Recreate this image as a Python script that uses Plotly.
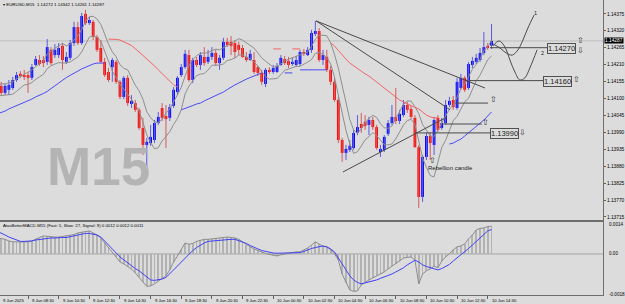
import plotly.graph_objects as go
import pandas as pd

BG = "#dcdcdc"

bars = list(range(130))
opens = [1.14121,1.14141,1.14118,1.14128,1.14134,1.14160,1.14180,1.14176,1.14176,1.14167,
         1.14209,1.14225,1.14225,1.14219,1.14258,1.14241,1.14241,1.14271,1.14219,1.14232,
         1.14280,1.14332,1.14280,1.14375,1.14345,1.14349,1.14300,1.14264,1.14219,1.14186,
         1.14202,1.14219,1.14154,1.14105,1.14167,1.14082,1.14085,1.14063,1.14004,1.13949,
         1.13955,1.13965,1.14020,1.14069,1.14043,1.14037,1.14076,1.14121,1.14176,1.14202,
         1.14241,1.14160,1.14225,1.14209,1.14235,1.14219,1.14235,1.14248,1.14215,1.14232,
         1.14284,1.14284,1.14280,1.14274,1.14264,1.14235,1.14225,1.14225,1.14202,1.14183,
         1.14147,1.14193,1.14186,1.14186,1.14209,1.14228,1.14222,1.14212,1.14209,1.14212,
         1.14251,1.14241,1.14258,1.14310,1.14319,1.14225,1.14235,1.14193,1.14154,1.14095,
         1.13965,1.13923,1.13933,1.13939,1.13988,1.14017,1.14024,1.14014,1.14030,1.14007,
         1.13926,1.13933,1.13985,1.14020,1.14040,1.14027,1.14046,1.14079,1.14066,1.14037,
         1.13942,1.13780,1.13910,1.13978,1.13949,1.14037,1.14004,1.14020,1.14079,1.14095,
         1.14069,1.14134,1.14167,1.14134,1.14209,1.14219,1.14225,1.14248,1.14271,1.14272]
highs = [1.14141,1.14154,1.14147,1.14160,1.14170,1.14186,1.14189,1.14193,1.14186,1.14212,
         1.14238,1.14241,1.14238,1.14293,1.14267,1.14277,1.14280,1.14280,1.14251,1.14290,
         1.14349,1.14349,1.14378,1.14388,1.14365,1.14355,1.14306,1.14290,1.14232,1.14199,
         1.14232,1.14225,1.14160,1.14173,1.14176,1.14111,1.14095,1.14069,1.14037,1.13972,
         1.14014,1.14030,1.14056,1.14085,1.14079,1.14082,1.14137,1.14173,1.14212,1.14258,
         1.14258,1.14232,1.14235,1.14251,1.14267,1.14258,1.14267,1.14258,1.14241,1.14297,
         1.14297,1.14303,1.14290,1.14284,1.14274,1.14251,1.14258,1.14251,1.14206,1.14193,
         1.14199,1.14202,1.14209,1.14215,1.14241,1.14238,1.14235,1.14232,1.14238,1.14258,
         1.14261,1.14267,1.14323,1.14352,1.14329,1.14258,1.14258,1.14206,1.14167,1.14105,
         1.13972,1.13949,1.13965,1.13998,1.14046,1.14053,1.14046,1.14040,1.14040,1.14014,
         1.13949,1.13981,1.14030,1.14079,1.14134,1.14063,1.14095,1.14089,1.14076,1.14046,
         1.13949,1.13916,1.13988,1.13991,1.14040,1.14046,1.14037,1.14095,1.14105,1.14108,
         1.14167,1.14180,1.14173,1.14219,1.14235,1.14245,1.14264,1.14316,1.14280,1.14342]
lows = [1.14108,1.14111,1.14111,1.14111,1.14128,1.14154,1.14167,1.14160,1.14118,1.14160,
        1.14206,1.14206,1.14202,1.14209,1.14209,1.14232,1.14232,1.14193,1.14212,1.14225,
        1.14271,1.14274,1.14274,1.14339,1.14339,1.14290,1.14251,1.14215,1.14170,1.14154,
        1.14154,1.14147,1.14098,1.14098,1.14076,1.14069,1.14056,1.13998,1.13916,1.13868,
        1.13946,1.13955,1.14014,1.14027,1.13939,1.14027,1.14069,1.14111,1.14170,1.14196,
        1.14154,1.14150,1.14202,1.14193,1.14206,1.14212,1.14225,1.14206,1.14193,1.14225,
        1.14267,1.14241,1.14232,1.14241,1.14232,1.14219,1.14222,1.14180,1.14173,1.14144,
        1.14137,1.14180,1.14180,1.14183,1.14206,1.14209,1.14199,1.14206,1.14202,1.14206,
        1.14238,1.14238,1.14248,1.14303,1.14219,1.14209,1.14186,1.14144,1.14089,1.13955,
        1.13894,1.13900,1.13926,1.13933,1.13981,1.13988,1.13998,1.13981,1.13998,1.13933,
        1.13910,1.13926,1.13978,1.14014,1.14017,1.14017,1.14040,1.14053,1.14033,1.13939,
        1.13744,1.13764,1.13900,1.13900,1.13916,1.13991,1.13998,1.14014,1.14072,1.14063,
        1.14063,1.14128,1.14121,1.14128,1.14199,1.14212,1.14219,1.14241,1.14258,1.14261]
closes = [1.14134,1.14118,1.14141,1.14144,1.14160,1.14176,1.14173,1.14170,1.14167,1.14202,
          1.14228,1.14212,1.14215,1.14267,1.14215,1.14258,1.14264,1.14225,1.14235,1.14280,
          1.14332,1.14280,1.14368,1.14345,1.14355,1.14300,1.14258,1.14219,1.14176,1.14160,
          1.14225,1.14154,1.14105,1.14167,1.14085,1.14092,1.14063,1.14004,1.13949,1.13959,
          1.13975,1.14020,1.14040,1.14037,1.14033,1.14072,1.14128,1.14167,1.14202,1.14245,
          1.14160,1.14225,1.14209,1.14241,1.14215,1.14235,1.14248,1.14215,1.14232,1.14284,
          1.14274,1.14271,1.14251,1.14258,1.14235,1.14225,1.14245,1.14186,1.14183,1.14154,
          1.14193,1.14186,1.14199,1.14206,1.14232,1.14215,1.14209,1.14219,1.14225,1.14251,
          1.14245,1.14258,1.14313,1.14319,1.14225,1.14241,1.14193,1.14154,1.14095,1.13965,
          1.13923,1.13936,1.13946,1.13988,1.14007,1.14004,1.14011,1.14030,1.14007,1.13939,
          1.13936,1.13975,1.14020,1.14040,1.14027,1.14050,1.14079,1.14063,1.14040,1.13942,
          1.13780,1.13910,1.13978,1.13955,1.14030,1.13998,1.14020,1.14079,1.14092,1.14072,
          1.14154,1.14167,1.14128,1.14212,1.14222,1.14232,1.14248,1.14267,1.14264,1.14287]

red_ma = ([None] * 29 +
          [1.14293,1.14293,1.14292,1.14290,1.14284,1.14277,1.14272,1.14262,1.14251,1.14241,
           1.14230,1.14219,1.14206,1.14193,1.14180,1.14167,1.14154,1.14144,1.14137] +
          [None] * 24 + [1.14261] * 3 + [None] * 2 + [1.14261] * 3 + [None] * 7 +
          [1.14280,1.14271,1.14256,1.14241,1.14228,1.14215,1.14206,1.14197,1.14189,1.14180,
           1.14173,1.14163,1.14154,1.14144,1.14134,1.14124,1.14115,1.14105,1.14095,1.14089,
           1.14082,1.14077,1.14071,1.14066,1.14056,1.14046,1.14040,1.14037,1.14037] +
          [None] * 14)
blue_ma = ([1.14050,1.14054,1.14059,1.14066,1.14071,1.14076,1.14082,1.14087,1.14092,1.14098,
            1.14105,1.14110,1.14116,1.14123,1.14131,1.14141,1.14150,1.14160,1.14168,1.14175,
            1.14183,1.14189,1.14196,1.14202,1.14207,1.14212,1.14215,1.14215,1.14215] +
           [None] * 19 +
           [1.14063,1.14067,1.14072,1.14077,1.14082,1.14085,1.14092,1.14098,1.14103,1.14108,
            1.14115,1.14121,1.14129,1.14137,1.14144,1.14150,1.14157,1.14163,1.14168,1.14173,
            1.14178,1.14183] +
           [None] * 5 + [1.14183] * 3 + [None] + [1.14193] * 8 + [None] * 31 +
           [1.13952,1.13955,1.13962,1.13968,1.13978,1.13988,1.13998,1.14007,1.14020,1.14030,
            1.14043,1.14056])

macd = [0.00070,0.00068,0.00064,0.00057,0.00053,0.00053,0.00053,0.00053,0.00053,0.00057,
        0.00066,0.00072,0.00079,0.00077,0.00074,0.00074,0.00074,0.00077,0.00079,0.00081,
        0.00085,0.00092,0.00096,0.00099,0.00101,0.00092,0.00083,0.00070,0.00048,0.00026,
        0.00004,-0.00013,-0.00035,-0.00044,-0.00055,-0.00066,-0.00083,-0.00101,-0.00123,-0.00142,
        -0.00140,-0.00131,-0.00118,-0.00107,-0.00096,-0.00070,-0.00035,-0.00009,0.00018,0.00048,
        0.00042,0.00046,0.00055,0.00061,0.00064,0.00064,0.00066,0.00068,0.00070,0.00072,
        0.00074,0.00072,0.00070,0.00064,0.00053,0.00039,0.00031,0.00022,0.00015,0.00009,
        0.00002,-0.00002,-0.00007,-0.00009,-0.00004,0.00000,0.00004,0.00007,0.00009,0.00009,
        0.00018,0.00026,0.00039,0.00053,0.00044,0.00033,0.00031,0.00018,0.00000,-0.00026,
        -0.00088,-0.00127,-0.00158,-0.00164,-0.00162,-0.00136,-0.00123,-0.00114,-0.00105,-0.00096,
        -0.00088,-0.00079,-0.00066,-0.00053,-0.00044,-0.00031,-0.00018,-0.00015,-0.00013,-0.00026,
        -0.00131,-0.00088,-0.00074,-0.00066,-0.00053,-0.00061,-0.00031,-0.00013,0.00000,0.00018,
        0.00031,0.00035,0.00044,0.00066,0.00083,0.00105,0.00112,0.00114,0.00120,0.00122]
signal = [0.00099,0.00092,0.00083,0.00074,0.00068,0.00061,0.00055,0.00055,0.00055,0.00057,
          0.00061,0.00064,0.00066,0.00068,0.00070,0.00070,0.00072,0.00072,0.00072,0.00074,
          0.00079,0.00083,0.00088,0.00090,0.00090,0.00088,0.00083,0.00074,0.00057,0.00039,
          0.00020,0.00002,-0.00013,-0.00026,-0.00039,-0.00053,-0.00064,-0.00074,-0.00088,-0.00101,
          -0.00114,-0.00116,-0.00114,-0.00110,-0.00103,-0.00088,-0.00070,-0.00053,-0.00035,-0.00018,
          0.00000,0.00015,0.00028,0.00039,0.00048,0.00055,0.00057,0.00059,0.00061,0.00061,
          0.00064,0.00064,0.00064,0.00059,0.00053,0.00046,0.00037,0.00028,0.00022,0.00015,
          0.00011,0.00007,0.00004,0.00003,0.00003,0.00003,0.00004,0.00004,0.00004,0.00006,
          0.00011,0.00018,0.00024,0.00028,0.00033,0.00035,0.00031,0.00022,0.00009,-0.00018,
          -0.00048,-0.00074,-0.00096,-0.00114,-0.00125,-0.00131,-0.00127,-0.00123,-0.00118,-0.00114,
          -0.00107,-0.00101,-0.00096,-0.00088,-0.00079,-0.00070,-0.00061,-0.00048,-0.00037,-0.00028,
          -0.00035,-0.00048,-0.00055,-0.00061,-0.00066,-0.00070,-0.00064,-0.00055,-0.00046,-0.00031,
          -0.00018,-0.00004,0.00009,0.00024,0.00039,0.00055,0.00072,0.00088,0.00101,0.00107]

price_ticks = [1.14375,1.14320,1.14265,1.14210,1.14155,1.14100,1.14045,1.13990,
               1.13935,1.13880,1.13825,1.13770,1.13715]
time_tick_bars = [0,8,16,24,32,40,48,56,64,72,80,88,96,104,112,120,128]
time_tick_labels = ["9 Jun 2025","9 Jun 08:30","9 Jun 10:30","9 Jun 12:30","9 Jun 14:30",
                    "9 Jun 16:30","9 Jun 18:30","9 Jun 20:30","9 Jun 22:30","10 Jun 00:30",
                    "10 Jun 02:30","10 Jun 04:30","10 Jun 06:30","10 Jun 08:30","10 Jun 10:30",
                    "10 Jun 12:30","10 Jun 14:30"]

# drawing objects (bar index, price)
trend_lines = [([83.2, 127.3], [1.14352, 1.14134]),
               ([83.2, 118.2], [1.14352, 1.14063]),
               ([90.2, 117.4], [1.13861, 1.14040])]
level_lines = [(128.6, 143.5, 1.14265), (123.1, 142.5, 1.14158), (119.5, 128.1, 1.14085),
               (116.4, 126.5, 1.14017), (109.0, 128.6, 1.13988)]
curve1_x = [129.4, 131.2, 132.8, 134.4, 135.9, 137.2, 138.5, 140.1]
curve1_y = [1.14277, 1.14264, 1.14248, 1.14241, 1.14258, 1.14290, 1.14329, 1.14371]
curve2_x = [129.4, 131.0, 132.5, 133.8, 135.1, 136.4, 137.7, 139.1, 140.9]
curve2_y = [1.14271, 1.14287, 1.14267, 1.14225, 1.14186, 1.14160, 1.14167, 1.14202, 1.14258]

fig = go.Figure()

bull = [i for i in bars if closes[i] >= opens[i]]
bear = [i for i in bars if closes[i] < opens[i]]

def wicks(idx):
    xs, ys = [], []
    for i in idx:
        xs += [i, i, None]
        ys += [lows[i], highs[i], None]
    return xs, ys

for idx, wc, bc in [(bull, "#5a5ae0", "#0000ff"), (bear, "#d45a5a", "#ff0000")]:
    wx, wy = wicks(idx)
    fig.add_trace(go.Scatter(x=wx, y=wy, mode="lines", line=dict(color=wc, width=1),
                             hoverinfo="skip", xaxis="x", yaxis="y"))
    fig.add_trace(go.Bar(x=idx, base=[min(opens[i], closes[i]) for i in idx],
                         y=[max(abs(closes[i] - opens[i]), 0.00003) for i in idx],
                         width=0.72, marker=dict(color=bc, line=dict(width=0)),
                         xaxis="x", yaxis="y"))

sma_hi = pd.Series(highs).rolling(5, min_periods=1).mean().tolist()
sma_lo = pd.Series(lows).rolling(5, min_periods=1).mean().tolist()
for s in (sma_hi, sma_lo):
    fig.add_trace(go.Scatter(x=bars, y=s, mode="lines", line=dict(color="#8e8e8e", width=1),
                             xaxis="x", yaxis="y"))
fig.add_trace(go.Scatter(x=bars, y=red_ma, mode="lines", line=dict(color="#f26464", width=1),
                         connectgaps=False, xaxis="x", yaxis="y"))
fig.add_trace(go.Scatter(x=bars, y=blue_ma, mode="lines", line=dict(color="#4a4af5", width=1),
                         connectgaps=False, xaxis="x", yaxis="y"))

for tx, ty in trend_lines:
    fig.add_trace(go.Scatter(x=tx, y=ty, mode="lines", line=dict(color="#4a4a4a", width=1),
                             xaxis="x", yaxis="y"))
for x0, x1, p in level_lines:
    fig.add_trace(go.Scatter(x=[x0, x1], y=[p, p], mode="lines",
                             line=dict(color="#4a4a4a", width=1), xaxis="x", yaxis="y"))
for cx, cy in [(curve1_x, curve1_y), (curve2_x, curve2_y)]:
    fig.add_trace(go.Scatter(x=cx, y=cy, mode="lines", line=dict(color="#4a4a4a", width=1, shape="spline"),
                             xaxis="x", yaxis="y"))

# MACD panel
fig.add_trace(go.Bar(x=bars, y=macd, width=0.22, marker=dict(color="#b2b2b2", line=dict(width=0)),
                     xaxis="x2", yaxis="y2"))
fig.add_trace(go.Scatter(x=bars, y=macd, mode="lines", line=dict(color="#8c8c8c", width=1),
                         xaxis="x2", yaxis="y2"))
fig.add_trace(go.Scatter(x=bars, y=signal, mode="lines", line=dict(color="#4040f5", width=1),
                         xaxis="x2", yaxis="y2"))

X_DOM = 603 / 625
MAIN_BOTTOM = 1 - 220 / 304
SUB = [1 - 295 / 304, 1 - 222 / 304]

shapes = [
    dict(type="line", xref="x domain", x0=0, x1=1, yref="y", y0=closes[-1], y1=closes[-1],
         line=dict(color="#bdbdbd", width=1), layer="below"),
    dict(type="line", xref="x2 domain", x0=0, x1=1, yref="y2", y0=0, y1=0,
         line=dict(color="#a4a4a4", width=1), layer="below"),
]

TXT = "Liberation Sans"
ann = []
ann.append(dict(xref="paper", yref="paper", x=0.002, y=1 - 4 / 304, xanchor="left", yanchor="middle",
                text="▾ EURUSD,M15  1.14272 1.14342 1.14261 1.14287", showarrow=False,
                font=dict(family=TXT, size=4.4, color="#000")))
ann.append(dict(xref="paper", yref="paper", x=0.002, y=1 - 225.5 / 304, xanchor="left", yanchor="middle",
                text="AtasBetterMACD-M15 (Fast: 5, Slow: 27, Signal: 9) 0.0012 0.0012 0.0011",
                showarrow=False, font=dict(family=TXT, size=4.3, color="#000")))
ann.append(dict(xref="x", yref="y", x=26.5, y=1.13880, text="<b>M15</b>", showarrow=False,
                xanchor="center", yanchor="middle", font=dict(family=TXT, size=53, color="#b4b4b4")))
for b, lab in zip(time_tick_bars, time_tick_labels):
    first = b < 1
    ann.append(dict(xref="x2", yref="paper", x=(1.0 if first else b + 0.5), y=1 - 300 / 304,
                    text=lab, showarrow=False,
                    xanchor="left", yanchor="middle", font=dict(family=TXT, size=4.2, color="#000")))
for txt, yy in [("0.0014", 224), ("0.00", 253.5), ("-0.0018", 294)]:
    ann.append(dict(xref="paper", yref="paper", x=X_DOM + 0.006, y=1 - yy / 304, text=txt,
                    showarrow=False, xanchor="left", yanchor="middle",
                    font=dict(family=TXT, size=4.6, color="#000")))
ann.append(dict(xref="paper", yref="y", x=X_DOM + 0.001, y=closes[-1], text="1.14287", showarrow=False,
                xanchor="left", yanchor="middle", bgcolor="#000", borderpad=0,
                font=dict(family=TXT, size=4.8, color="#fff")))
for xx, yy, txt in [(147.3, 1.14264, "1.14270"), (146.2, 1.14155, "1.14160"), (132.5, 1.13986, "1.13990")]:
    ann.append(dict(xref="x", yref="y", x=xx, y=yy, text=txt, showarrow=False, xanchor="center",
                    yanchor="middle", bordercolor="#505050", borderwidth=1, borderpad=0,
                    font=dict(family=TXT, size=7.5, color="#202020")))
for xx, yy, txt in [(152.1, 1.14290, "⇧"), (152.1, 1.14255, "⇩"), (151.3, 1.14163, "⇧"),
                    (129.6, 1.14098, "⇧"), (127.4, 1.14023, "⇧"), (137.2, 1.13988, "⇩"),
                    (113.7, 1.13900, "⇧")]:
    ann.append(dict(xref="x", yref="y", x=xx, y=yy, text=txt, showarrow=False, xanchor="center",
                    yanchor="middle", font=dict(family="DejaVu Sans", size=8, color="#303030")))
ann.append(dict(xref="x", yref="y", x=118.2, y=1.13874, text="Rebellion candle", showarrow=False,
                xanchor="center", yanchor="middle", font=dict(family=TXT, size=6, color="#202020")))
ann.append(dict(xref="x", yref="y", x=140.6, y=1.14378, text="1", showarrow=False,
                font=dict(family=TXT, size=5.5, color="#202020")))
ann.append(dict(xref="x", yref="y", x=142.3, y=1.14248, text="2", showarrow=False,
                font=dict(family=TXT, size=5.5, color="#202020")))

fig.update_layout(
    width=625, height=304, margin=dict(l=0, r=0, t=0, b=0),
    paper_bgcolor=BG, plot_bgcolor=BG, showlegend=False, barmode="overlay",
    font=dict(family=TXT, size=5, color="#000"),
    xaxis=dict(domain=[0, X_DOM], range=[0.68, 158.1], anchor="y", showgrid=False, zeroline=False,
               showticklabels=False, ticks="", showline=True, linecolor="#6e6e6e", linewidth=2),
    yaxis=dict(domain=[MAIN_BOTTOM, 1], range=[1.13705, 1.14420], anchor="x", side="right",
               showgrid=False, zeroline=False, tickvals=price_ticks,
               ticktext=[f"{v:.5f}" for v in price_ticks], ticks="outside", ticklen=2,
               tickcolor="#606060", tickfont=dict(family=TXT, size=4.8), showline=True,
               linecolor="#6e6e6e", linewidth=1),
    xaxis2=dict(domain=[0, X_DOM], anchor="y2", matches="x", showgrid=False, zeroline=False,
                showticklabels=False, tickvals=time_tick_bars, ticks="outside", ticklen=3,
                tickcolor="#606060", showline=True, linecolor="#6e6e6e", linewidth=1),
    yaxis2=dict(domain=SUB, range=[-0.0018, 0.0014], anchor="x2", side="right", showgrid=False,
                zeroline=False, showticklabels=False, ticks="", showline=True,
                linecolor="#6e6e6e", linewidth=1),
    shapes=shapes, annotations=ann,
)

fig.write_html("out.html")
